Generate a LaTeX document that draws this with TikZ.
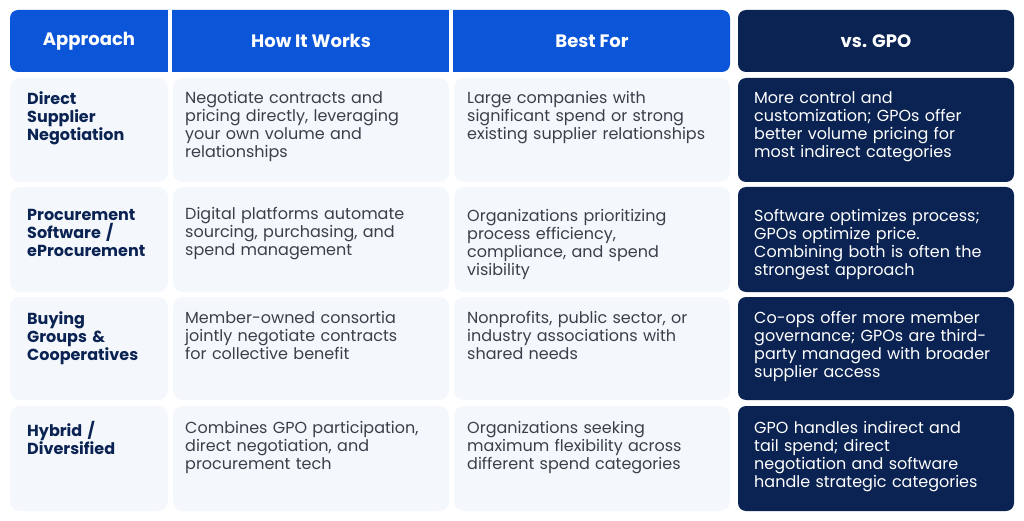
\documentclass[tikz,border=0pt]{standalone}
\usepackage{fontspec}
\setmainfont{Poppins}
\definecolor{hblue}{HTML}{0B55D9}
\definecolor{navy}{HTML}{0B2352}
\definecolor{cellbg}{HTML}{F4F8FC}
\definecolor{bodytxt}{HTML}{3A3F4A}
\begin{document}
\begin{tikzpicture}[x=1pt,y=-1pt,
 cell/.style={fill=cellbg,rounded corners=10pt},
 dcell/.style={fill=navy,rounded corners=8pt},
 htxt/.style={text=white,font=\fontsize{18}{20}\selectfont\bfseries},
 ftxt/.style={anchor=north west,inner sep=0pt,align=left,text=navy,font=\fontsize{16}{18}\selectfont\bfseries,text width=140pt},
 btxt/.style={anchor=north west,inner sep=0pt,align=left,text=bodytxt,font=\fontsize{16}{18}\selectfont,text width=262pt},
 wtxt/.style={anchor=north west,inner sep=0pt,align=left,text=white,font=\fontsize{16}{18}\selectfont,text width=262pt}]
\useasboundingbox (0,0) rectangle (1024,521);
\fill[white] (0,0) rectangle (1024,521);
% header
\fill[hblue,rounded corners=8pt] (10,10) rectangle (730,72);
\fill[white] (168,10) rectangle (172,72);
\fill[white] (449,10) rectangle (453,72);
\fill[navy,rounded corners=8pt] (738,10) rectangle (1014,72);
\node[htxt] (h1) at (89,41) {Approach};
\node[htxt] (h2) at (311,41) {How It Works};
\node[htxt] (h3) at (592,41) {Best For};
\node[htxt] (h4) at (876,41) {vs. GPO};
% rows
\foreach \a/\b in {78/182,187/292,297/400,406/511}{
 \fill[cell] (10,\a) rectangle (168,\b);
 \fill[cell] (173,\a) rectangle (449,\b);
 \fill[cell] (454,\a) rectangle (730,\b);
 \fill[dcell] (738,\a) rectangle (1014,\b);
}
\node[ftxt] (a1) at (27,91) {Direct\\Supplier\\Negotiation};
\node[btxt] (b1) at (185,91) {Negotiate contracts and\\pricing directly, leveraging\\your own volume and\\relationships};
\node[btxt] (c1) at (467,91) {Large companies with\\significant spend or strong\\existing supplier relationships};
\node[wtxt] (d1) at (754,91) {More control and\\customization; GPOs offer\\better volume pricing for\\most indirect categories};
\node[ftxt] (a2) at (27,209) {Procurement\\Software /\\eProcurement};
\node[btxt] (b2) at (185,207) {Digital platforms automate\\sourcing, purchasing, and\\spend management};
\node[btxt] (c2) at (467,209) {Organizations prioritizing\\process efficiency,\\compliance, and spend\\visibility};
\node[wtxt] (d2) at (754,209) {Software optimizes process;\\GPOs optimize price.\\Combining both is often the\\strongest approach};
\node[ftxt] (a3) at (27,311) {Buying\\Groups \&\\Cooperatives};
\node[btxt] (b3) at (185,311) {Member-owned consortia\\jointly negotiate contracts\\for collective benefit};
\node[btxt] (c3) at (467,311) {Nonprofits, public sector, or\\industry associations with\\shared needs};
\node[wtxt] (d3) at (754,311) {Co-ops offer more member\\governance; GPOs are third-\\party managed with broader\\supplier access};
\node[ftxt] (a4) at (27,421) {Hybrid /\\Diversified};
\node[btxt] (b4) at (185,421) {Combines GPO participation,\\direct negotiation, and\\procurement tech};
\node[btxt] (c4) at (467,421) {Organizations seeking\\maximum flexibility across\\different spend categories};
\node[wtxt] (d4) at (754,421) {GPO handles indirect and\\tail spend; direct\\negotiation and software\\handle strategic categories};
\end{tikzpicture}
\end{document}
